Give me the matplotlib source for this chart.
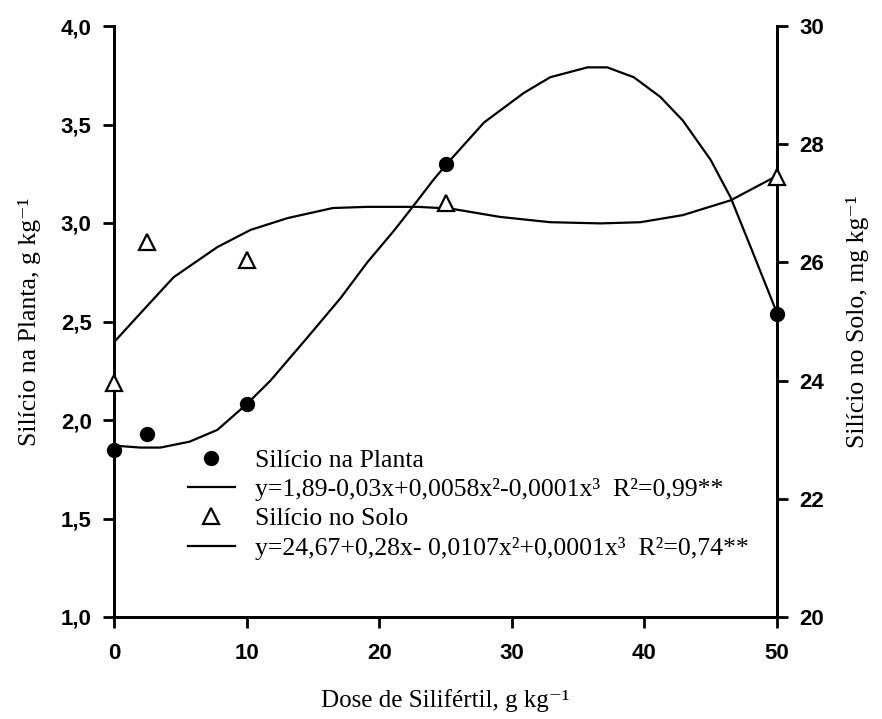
import numpy as np
import matplotlib
matplotlib.use("Agg")
import matplotlib.pyplot as plt

### data ###

dose = [0, 2.5, 10, 25, 50]
si_planta = [1.85, 1.93, 2.08, 3.30, 2.54]
si_solo = [23.96, 26.35, 26.04, 27.00, 27.45]

# fitted curves
fit_planta_x = [0, 2, 3.5, 5.7, 7.8, 10, 11.8, 14.6, 17.1, 19.1, 21.1, 22.5, 24.1, 25.1,
                27.9, 30.9, 32.9, 35.7, 37.2, 39.2, 41.2, 42.9, 45, 46.5, 48, 49.9]
fit_planta_y = [1.87, 1.86, 1.86, 1.89, 1.95, 2.08, 2.20, 2.42, 2.62, 2.80, 2.96, 3.08, 3.22, 3.30,
                3.51, 3.66, 3.74, 3.79, 3.79, 3.74, 3.64, 3.52, 3.32, 3.13, 2.88, 2.56]

fit_solo_x = [0, 2.2, 4.5, 7.8, 10.3, 13.1, 16.5, 19.1, 22.9, 25.4, 29.1, 32.9, 36.7, 39.7,
              42.9, 46.5, 49.7]
fit_solo_y = [24.65, 25.19, 25.75, 26.26, 26.55, 26.75, 26.92, 26.94, 26.94, 26.91, 26.77, 26.68,
              26.66, 26.68, 26.80, 27.05, 27.43]

xticks = [0, 10, 20, 30, 40, 50]
yticks_left = [1.0, 1.5, 2.0, 2.5, 3.0, 3.5, 4.0]
ylabels_left = ["1,0", "1,5", "2,0", "2,5", "3,0", "3,5", "4,0"]
yticks_right = [20, 22, 24, 26, 28, 30]

lbl_planta = "Silício na Planta"
lbl_planta_eq = "y=1,89-0,03x+0,0058x²-0,0001x³  R²=0,99**"
lbl_solo = "Silício no Solo"
lbl_solo_eq = "y=24,67+0,28x- 0,0107x²+0,0001x³  R²=0,74**"

### plot ###

tick_font = "Liberation Sans"
serif = ["Liberation Serif", "DejaVu Serif"]

fig = plt.figure(figsize=(8.82, 7.19), dpi=100)
ax = fig.add_axes([114/882, 1-617/719, 663/882, 591/719])
ax2 = ax.twinx()

lw = 1.6
l1, = ax.plot(fit_planta_x, fit_planta_y, color="black", lw=lw)
p1, = ax.plot(dose, si_planta, "o", color="black", ms=10, clip_on=False, zorder=5)
l2, = ax2.plot(fit_solo_x, fit_solo_y, color="black", lw=lw)
p2, = ax2.plot(dose, si_solo, "^", mfc="white", mec="black", mew=1.6, ms=11, clip_on=False, zorder=5)

ax.set_xlim(0, 50)
ax.set_ylim(1.0, 4.0)
ax2.set_ylim(20, 30)

ax.set_xticks(xticks)
ax.set_xticklabels([str(t) for t in xticks])
ax.set_yticks(yticks_left)
ax.set_yticklabels(ylabels_left)
ax2.set_yticks(yticks_right)
ax2.set_yticklabels([str(t) for t in yticks_right])

for a in (ax, ax2):
    a.spines["top"].set_visible(False)
    for s in a.spines.values():
        s.set_linewidth(2)
    a.tick_params(direction="out", length=8, width=2, pad=8)
    for t in a.get_xticklabels() + a.get_yticklabels():
        t.set_fontfamily(tick_font)
        t.set_fontsize(16)
        t.set_fontweight("bold")
ax.tick_params(axis="x", pad=11)

ax.set_xlabel("Dose de Silifértil, g kg⁻¹", family=serif, fontsize=18, labelpad=18)
ax.set_ylabel("Silício na Planta, g kg⁻¹", family=serif, fontsize=18.5, labelpad=14)
ax2.set_ylabel("Silício no Solo, mg kg⁻¹", family=serif, fontsize=18.5, labelpad=16)

leg = ax2.legend([p1, l1, p2, l2], [lbl_planta, lbl_planta_eq, lbl_solo, lbl_solo_eq],
                 loc="upper left", bbox_to_anchor=(0.112, 0.285), borderaxespad=0, borderpad=0,
                 frameon=False, handlelength=1.8, handletextpad=0.8, labelspacing=0.25,
                 prop={"family": serif, "size": 18.5})

fig.savefig("out.png", dpi=100)
